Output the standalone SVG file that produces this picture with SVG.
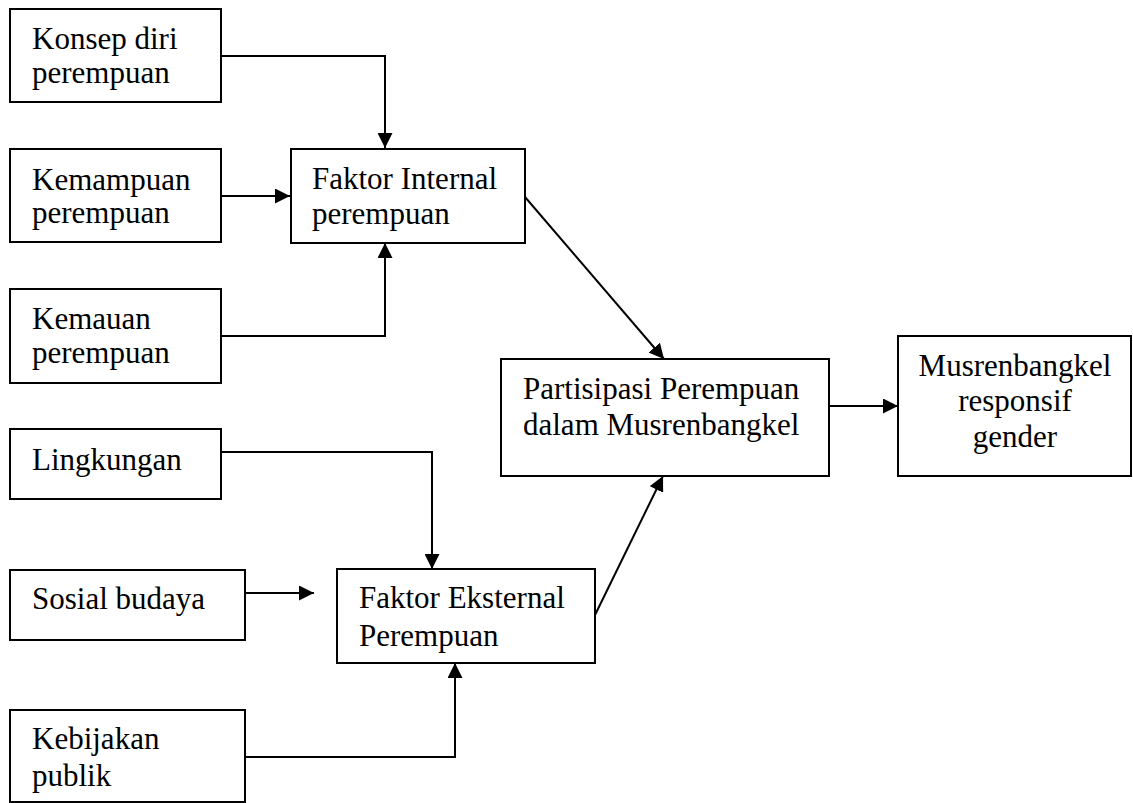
<svg xmlns="http://www.w3.org/2000/svg" width="1133" height="803" viewBox="0 0 1133 803">
<style>
.box{fill:#fff;stroke:#000;stroke-width:2}
text{font-family:'Liberation Serif','Times New Roman',Times,serif;font-size:31px;fill:#000}
.c{text-anchor:middle}
.ln{fill:none;stroke:#000;stroke-width:2;marker-end:url(#ah)}
</style>
<defs>
<marker id="ah" markerUnits="userSpaceOnUse" markerWidth="16" markerHeight="15" refX="15" refY="7.5" orient="auto">
<path d="M0,0 L15,7.5 L0,15 z" fill="#000"/>
</marker>
</defs>
<g id="connectors">
<path class="ln" d="M221,56 H385 V148"/>
<path class="ln" d="M221,196 H290"/>
<path class="ln" d="M221,336 H385 V243"/>
<path class="ln" d="M525,197 L664,359"/>
<path class="ln" d="M829,406 H898"/>
<path class="ln" d="M221,452 H432 V569"/>
<path class="ln" d="M245,593 H314"/>
<path class="ln" d="M245,757 H455 V663"/>
<path class="ln" d="M595,615 L663,476"/>
</g>
<g id="konsep">
<rect class="box" x="10" y="9" width="211" height="93"/>
<text font-family="Liberation Serif" x="32" y="49">Konsep diri</text>
<text font-family="Liberation Serif" x="32" y="83">perempuan</text>
</g>
<g id="kemampuan">
<rect class="box" x="10" y="149" width="211" height="93"/>
<text font-family="Liberation Serif" x="32" y="190">Kemampuan</text>
<text font-family="Liberation Serif" x="32" y="223">perempuan</text>
</g>
<g id="kemauan">
<rect class="box" x="10" y="289" width="211" height="94"/>
<text font-family="Liberation Serif" x="32" y="329">Kemauan</text>
<text font-family="Liberation Serif" x="32" y="363">perempuan</text>
</g>
<g id="faktor-internal">
<rect class="box" x="291" y="149" width="234" height="94"/>
<text font-family="Liberation Serif" x="312" y="189">Faktor Internal</text>
<text font-family="Liberation Serif" x="312" y="224">perempuan</text>
</g>
<g id="partisipasi">
<rect class="box" x="501" y="359" width="328" height="117"/>
<text font-family="Liberation Serif" x="523" y="399">Partisipasi Perempuan</text>
<text font-family="Liberation Serif" x="523" y="435">dalam Musrenbangkel</text>
</g>
<g id="musrenbangkel">
<rect class="box" x="898" y="336" width="233" height="140"/>
<text font-family="Liberation Serif" class="c" x="1015" y="376">Musrenbangkel</text>
<text font-family="Liberation Serif" class="c" x="1015" y="411">responsif</text>
<text font-family="Liberation Serif" class="c" x="1015" y="447">gender</text>
</g>
<g id="lingkungan">
<rect class="box" x="10" y="429" width="211" height="70"/>
<text font-family="Liberation Serif" x="32" y="470">Lingkungan</text>
</g>
<g id="sosial">
<rect class="box" x="10" y="570" width="235" height="70"/>
<text font-family="Liberation Serif" x="32" y="609">Sosial budaya</text>
</g>
<g id="faktor-eksternal">
<rect class="box" x="337" y="569" width="258" height="94"/>
<text font-family="Liberation Serif" x="359" y="608">Faktor Eksternal</text>
<text font-family="Liberation Serif" x="359" y="646">Perempuan</text>
</g>
<g id="kebijakan">
<rect class="box" x="10" y="710" width="235" height="92"/>
<text font-family="Liberation Serif" x="32" y="749">Kebijakan</text>
<text font-family="Liberation Serif" x="32" y="786">publik</text>
</g>
</svg>
